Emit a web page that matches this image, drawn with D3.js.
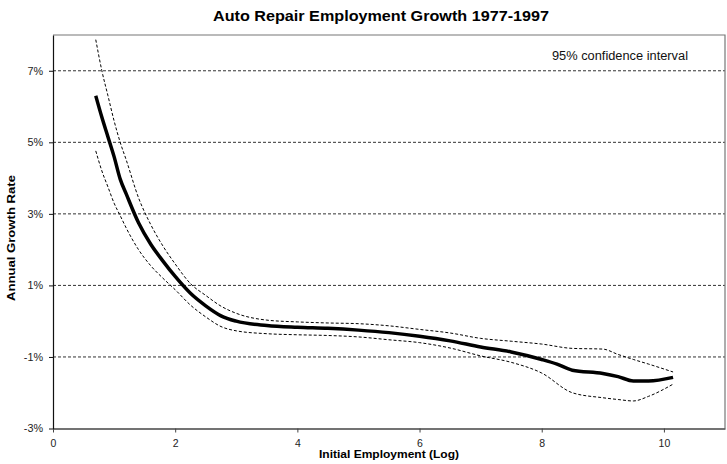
<!DOCTYPE html>
<html><head><meta charset="utf-8">
<script src="https://cdn.jsdelivr.net/npm/d3@7"></script>
<style>body{margin:0;background:#fff;font-family:"Liberation Sans",Arial,sans-serif}</style>
</head><body><svg id="c" width="727" height="464"></svg>
<script>
const xTicks = [0, 2, 4, 6, 8, 10];
const yTicks = [-3, -1, 1, 3, 5, 7];
const gridTicks = [-1, 1, 3, 5, 7];

const growthX = [0.7, 0.8, 0.9, 1.0, 1.1, 1.2, 1.4, 1.6, 1.8, 2.0, 2.25, 2.5, 2.75, 3.0, 3.5, 4.0, 4.5, 5.0, 5.5, 6.0, 6.5, 7.0, 7.5, 8.0, 8.25, 8.5, 9.0, 9.25, 9.5, 9.75, 10.15];
const growth = [6.30, 5.70, 5.15, 4.60, 3.97, 3.55, 2.75, 2.15, 1.68, 1.25, 0.78, 0.43, 0.15, 0.0, -0.12, -0.17, -0.20, -0.25, -0.32, -0.42, -0.55, -0.72, -0.86, -1.07, -1.20, -1.37, -1.46, -1.55, -1.67, -1.67, -1.57];

const ciX = [0.7, 0.8, 0.9, 1.0, 1.1, 1.2, 1.4, 1.6, 1.8, 2.0, 2.25, 2.5, 2.75, 3.0, 3.5, 4.0, 4.5, 5.0, 5.5, 6.0, 6.5, 7.0, 7.5, 8.0, 8.5, 9.0, 9.25, 9.5, 9.75, 10.15];
const upper = [7.87, 7.0, 6.3, 5.6, 5.0, 4.5, 3.45, 2.7, 2.1, 1.6, 1.05, 0.72, 0.42, 0.22, 0.03, -0.02, -0.05, -0.07, -0.13, -0.23, -0.33, -0.48, -0.56, -0.64, -0.76, -0.78, -0.93, -1.07, -1.2, -1.42];
const lower = [4.76, 4.2, 3.75, 3.3, 2.95, 2.6, 2.0, 1.55, 1.2, 0.88, 0.45, 0.12, -0.15, -0.27, -0.35, -0.38, -0.40, -0.44, -0.52, -0.60, -0.75, -0.97, -1.15, -1.45, -2.0, -2.14, -2.19, -2.23, -2.1, -1.76];

const svg = d3.select("#c");
const L = 53, R = 725, T = 35, B = 428.5;
const x = d3.scaleLinear().domain([0, 11]).range([L, R]);
const y = d3.scaleLinear().domain([-3, 8]).range([B, T]);
const FF = "Liberation Sans, Arial, sans-serif";

// title
svg.append("text").attr("x", 381).attr("y", 21).attr("text-anchor", "middle")
  .attr("font-size", 14).attr("font-weight", "bold").attr("fill", "#000")
  .attr("textLength", 336).attr("lengthAdjust", "spacingAndGlyphs")
  .text("Auto Repair Employment Growth 1977-1997");

// grid
svg.append("g").selectAll("line").data(gridTicks).join("line")
  .attr("x1", L).attr("x2", R).attr("y1", d => y(d)).attr("y2", d => y(d))
  .attr("stroke", "#333").attr("stroke-width", 1).attr("stroke-dasharray", "3,2");

// border top/right
svg.append("path").attr("d", `M${L},${T}H${R}V${B}`).attr("fill", "none")
  .attr("stroke", "#777").attr("stroke-width", 1.2);

// axes
const xa = svg.append("g").attr("transform", `translate(0,${B})`)
  .call(d3.axisBottom(x).tickValues(xTicks).tickSize(4).tickSizeOuter(0));
xa.select(".domain").attr("stroke", "#444").attr("stroke-width", 1.5);
xa.selectAll(".tick line").attr("stroke", "#444");
xa.selectAll("text").attr("font-size", 10.5).attr("fill", "#222").attr("y", 18).attr("dy", 0)
  .attr("font-family", FF);

const ya = svg.append("g").attr("transform", `translate(${L},0)`)
  .call(d3.axisLeft(y).tickValues(yTicks).tickSize(4).tickSizeOuter(0).tickFormat(d => d + "%"));
ya.select(".domain").attr("stroke", "#111").attr("stroke-width", 1.2);
ya.selectAll(".tick line").attr("stroke", "#111");
ya.selectAll("text").attr("font-size", 10.8).attr("fill", "#222").attr("x", -10)
  .attr("font-family", FF);

// axis titles
svg.append("text").attr("x", 389).attr("y", 458).attr("text-anchor", "middle")
  .attr("font-size", 11).attr("font-weight", "bold").attr("fill", "#000")
  .attr("textLength", 140).attr("lengthAdjust", "spacingAndGlyphs")
  .text("Initial Employment (Log)");
svg.append("text").attr("transform", "translate(15,238) rotate(-90)").attr("text-anchor", "middle")
  .attr("font-size", 11).attr("font-weight", "bold").attr("fill", "#000")
  .attr("textLength", 126).attr("lengthAdjust", "spacingAndGlyphs")
  .text("Annual Growth Rate");

// annotation
svg.append("text").attr("x", 688).attr("y", 60).attr("text-anchor", "end")
  .attr("font-size", 12).attr("fill", "#111")
  .attr("textLength", 136).attr("lengthAdjust", "spacingAndGlyphs")
  .text("95% confidence interval");

const line = d3.line().x(d => x(d[0])).y(d => y(d[1])).curve(d3.curveMonotoneX);
svg.append("path").datum(d3.zip(ciX, upper)).attr("d", line).attr("fill", "none")
  .attr("stroke", "#000").attr("stroke-width", 1).attr("stroke-dasharray", "3,2");
svg.append("path").datum(d3.zip(ciX, lower)).attr("d", line).attr("fill", "none")
  .attr("stroke", "#000").attr("stroke-width", 1).attr("stroke-dasharray", "3,2");
svg.append("path").datum(d3.zip(growthX, growth)).attr("d", line).attr("fill", "none")
  .attr("stroke", "#000").attr("stroke-width", 3.5).attr("stroke-linejoin", "round");
</script></body></html>
